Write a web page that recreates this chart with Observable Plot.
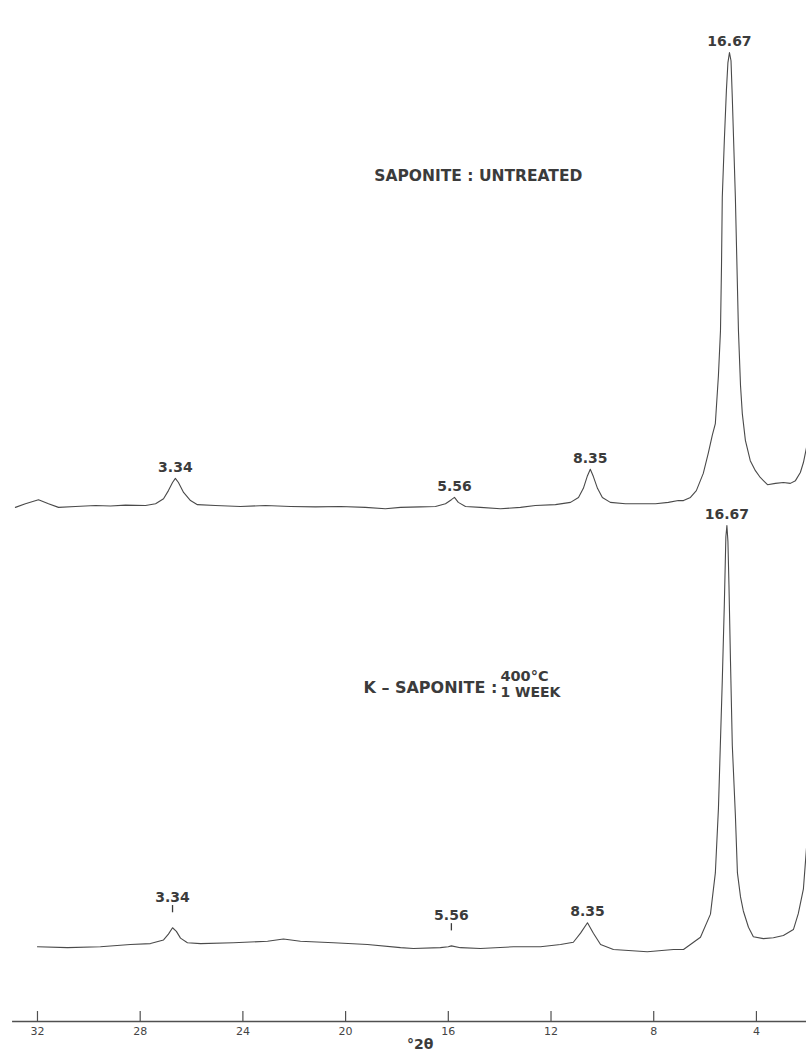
<!DOCTYPE html>
<html>
<head>
<meta charset="utf-8">
<script src="https://cdn.jsdelivr.net/npm/d3@7"></script>
<script src="https://cdn.jsdelivr.net/npm/@observablehq/plot@0.6"></script>
<style>
  html, body { margin: 0; padding: 0; background: #fff; }
  #chart svg { display: block; }
</style>
</head>
<body>
<div id="chart"></div>
<script>
// ---- Data (2θ in degrees, relative intensity: 100 = top of the untreated 16.67 Å peak) ----
const untreatedTheta = [32.86,32.47,31.96,31.57,31.18,30.52,29.74,29.16,28.57,27.79,
  27.40,27.09,26.90,26.74,26.63,26.51,26.31,26.04,25.77,25.07,
  24.10,23.12,22.15,21.17,20.20,19.23,18.45,17.86,17.09,16.50,
  16.11,15.88,15.76,15.61,15.33,14.75,13.97,13.19,12.61,11.83,
  11.24,10.93,10.74,10.58,10.47,10.35,10.19,10.00,9.69,9.10,
  8.52,7.93,7.43,7.04,6.84,6.57,6.34,6.07,5.87,5.72,
  5.60,5.48,5.40,5.36,5.33,5.25,5.17,5.11,5.05,4.99,
  4.94,4.82,4.70,4.62,4.55,4.43,4.24,4.04,3.85,3.57,
  3.26,2.95,2.68,2.48,2.29,2.17,2.05];
const untreatedIntensity = [-0.4,0.4,1.3,0.4,-0.4,-0.2,0,-0.1,0.1,0,
  0.4,1.5,3.3,5.1,6.0,5.1,2.9,1.1,0.2,0,
  -0.2,0,-0.2,-0.3,-0.2,-0.4,-0.7,-0.4,-0.3,-0.2,
  0.4,1.3,1.8,0.7,-0.2,-0.4,-0.7,-0.4,0,0.2,
  0.7,1.8,3.8,6.6,8.0,6.4,3.8,1.8,0.7,0.4,
  0.4,0.4,0.7,1.1,1.1,1.8,3.3,7.1,11.7,15.5,
  18.1,28.7,38.6,53.0,68.0,80.6,91.6,97.8,100,98.2,
  90.1,68.0,38.6,26.5,20.3,14.4,9.9,7.7,6.2,4.6,
  4.9,5.1,4.9,5.5,7.3,9.5,12.8];

const heatedTheta = [32.00,30.83,29.55,28.38,27.60,27.09,26.90,26.74,26.59,26.43,
  26.16,25.65,24.37,23.04,22.42,21.76,20.47,19.15,17.86,17.36,
  16.31,16.00,15.88,15.53,14.75,13.46,12.41,11.63,11.13,10.85,
  10.58,10.35,10.07,9.57,8.25,7.23,6.84,6.18,5.79,5.60,
  5.48,5.33,5.25,5.19,5.15,5.11,5.07,5.01,4.94,4.82,
  4.74,4.62,4.51,4.31,4.12,3.73,3.34,2.95,2.56,2.37,
  2.17,2.05];
const heatedIntensity = [0.2,0,0.2,0.7,0.9,1.7,3.0,4.4,3.6,2.1,
  1.1,0.9,1.1,1.4,1.9,1.4,1.1,0.7,0,-0.2,
  0,0.2,0.4,0,-0.2,0.2,0.2,0.7,1.2,3.2,
  5.5,3.2,0.7,-0.4,-0.9,-0.4,-0.4,2.3,7.4,16.5,
  30.7,58.9,75.8,90.7,93.2,89.7,80.1,63.2,44.7,29.3,
  16.5,11.2,8.1,4.5,2.4,2.0,2.2,2.7,4.0,7.5,
  13.0,22.0];

// d-spacing labels (Å) and the peaks they mark
const spacingLabels = ["16.67", "8.35", "5.56", "3.34"];
const untreatedPeakTheta = [5.05, 10.47, 15.76, 26.63];
const untreatedPeakIntensity = [100, 8.0, 1.8, 6.0];
const heatedPeakTheta = [5.15, 10.58, 15.88, 26.74];
const heatedPeakIntensity = [93.2, 5.5, 0.4, 4.4];
const heatedPeakMarked = [false, false, true, true];

const axisTicks = [32, 28, 24, 20, 16, 12, 8, 4];
const stackOffset = 97.6;    // upper pattern is shifted up by this many intensity units
const axisLevel = -16.3;

// ---- Build tables ----
const rows = [
  ...untreatedTheta.map((t, i) => ({theta: t, level: untreatedIntensity[i] + stackOffset, pattern: "untreated"})),
  ...heatedTheta.map((t, i) => ({theta: t, level: heatedIntensity[i], pattern: "heated"}))
];
const labels = [
  ...spacingLabels.map((s, i) => ({text: s, theta: untreatedPeakTheta[i], level: untreatedPeakIntensity[i] + stackOffset, marked: false})),
  ...spacingLabels.map((s, i) => ({text: s, theta: heatedPeakTheta[i], level: heatedPeakIntensity[i], marked: heatedPeakMarked[i]}))
];
const plain = labels.filter(d => !d.marked);
const marked = labels.filter(d => d.marked);

const ink = "#3b3b3b";
const font = "DejaVu Sans";

const chart = Plot.plot({
  width: 806,
  height: 1054,
  marginLeft: 0, marginRight: 0, marginTop: 0, marginBottom: 33,
  x: {domain: [33.44, 2.05], axis: null},
  y: {domain: [axisLevel, 209.1], axis: null},
  style: {background: "#fff", fontFamily: font, color: ink},
  marks: [
    // axis
    Plot.ruleY([axisLevel], {x1: 32.97, x2: 2.05, stroke: "#505050", strokeWidth: 1.3}),
    Plot.ruleX(axisTicks, {x: d => d, y1: axisLevel, y2: axisLevel + 2.2, stroke: "#505050", strokeWidth: 1.2}),
    Plot.text(axisTicks, {x: d => d, y: axisLevel, text: d => String(d), dy: 10, fontSize: 11, fill: "#444"}),
    Plot.text(["°2θ"], {x: 17.1, y: axisLevel, text: d => d, dy: 23, fontSize: 14, fontWeight: "bold", fill: ink}),
    // diffraction traces
    Plot.line(rows, {x: "theta", y: "level", z: "pattern", stroke: "#4a4a4a", strokeWidth: 1.1, strokeLinejoin: "round"}),
    // peak labels
    Plot.text(plain, {x: "theta", y: "level", text: "text", dy: -11, fontSize: 14, fontWeight: "bold", fill: ink}),
    Plot.text(marked, {x: "theta", y: "level", text: "text", dy: -30, fontSize: 14, fontWeight: "bold", fill: ink}),
    Plot.ruleX(marked, {x: "theta", y1: d => d.level + 3.3, y2: d => d.level + 4.9, stroke: ink, strokeWidth: 1.3}),
    // sample titles
    Plot.text(["SAPONITE : UNTREATED"], {x: 14.83, y: 170.4, text: d => d, fontSize: 15.5, fontWeight: "bold", fill: ink}),
    Plot.text(["K – SAPONITE :"], {x: 14.09, y: 57.4, text: d => d, textAnchor: "end", fontSize: 16, fontWeight: "bold", fill: ink}),
    Plot.text(["400°C"], {x: 13.97, y: 59.9, text: d => d, textAnchor: "start", fontSize: 14.5, fontWeight: "bold", fill: ink}),
    Plot.text(["1 WEEK"], {x: 13.97, y: 56.3, text: d => d, textAnchor: "start", fontSize: 14, fontWeight: "bold", fill: ink})
  ]
});
document.getElementById("chart").append(chart);
</script>
</body>
</html>
